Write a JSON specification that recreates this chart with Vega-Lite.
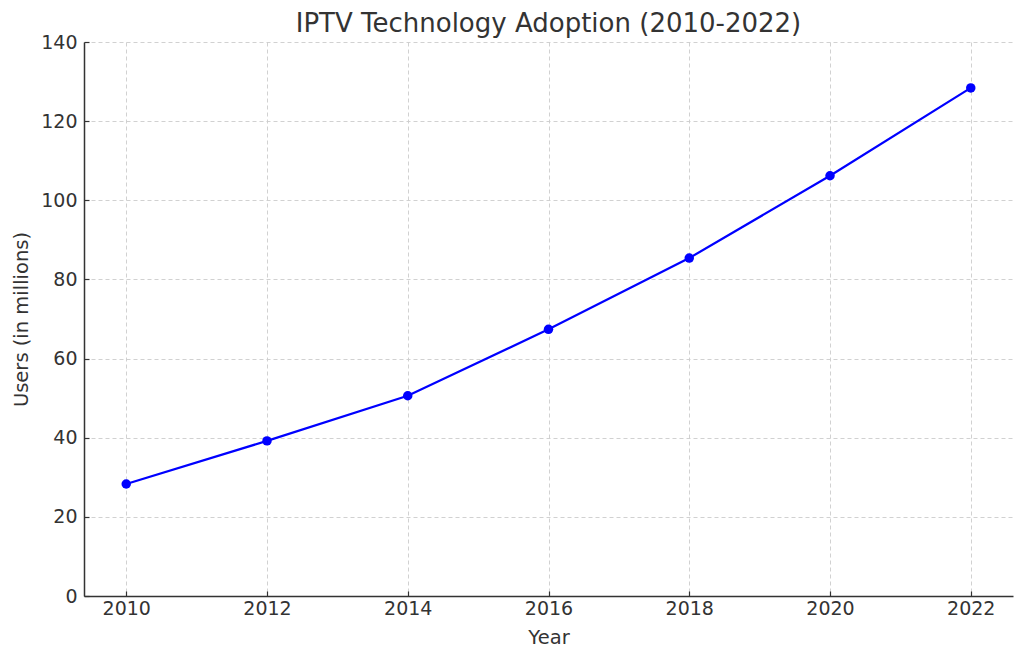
{
  "$schema": "https://vega.github.io/schema/vega-lite/v6.json",
  "autosize": "none",
  "width": 929,
  "height": 554,
  "padding": {"left": 84, "top": 42, "right": 11, "bottom": 64},
  "background": "white",
  "title": {"text": "IPTV Technology Adoption (2010-2022)", "fontSize": 26, "font": "DejaVu Sans", "fontWeight": "normal", "color": "#333333", "offset": -4},
  "config": {"view": {"stroke": null}},
  "data": {"values": [
    {"Year": 2010, "Users": 28.3},
    {"Year": 2012, "Users": 39.2},
    {"Year": 2014, "Users": 50.6},
    {"Year": 2016, "Users": 67.4},
    {"Year": 2018, "Users": 85.4},
    {"Year": 2020, "Users": 106.2},
    {"Year": 2022, "Users": 128.4}
  ]},
  "encoding": {
    "x": {"field": "Year", "type": "quantitative",
      "scale": {"domain": [2009.4, 2022.6], "nice": false, "zero": false},
      "axis": {"values": [2010, 2012, 2014, 2016, 2018, 2020, 2022], "format": "d", "title": "Year",
        "labelFont": "DejaVu Sans", "labelFontSize": 19, "labelColor": "#333333", "titleFont": "DejaVu Sans", "titleFontSize": 19.5, "titleFontWeight": "normal", "titleColor": "#333333",
        "domainColor": "#333333", "domainWidth": 1.5, "tickColor": "#333333", "tickSize": -5, "tickWidth": 1.2, "labelPadding": 8, "titlePadding": 10,
        "grid": true, "gridDash": [4, 3], "gridColor": "#cccccc", "gridWidth": 0.9}},
    "y": {"field": "Users", "type": "quantitative",
      "scale": {"domain": [0, 140], "nice": false},
      "axis": {"values": [0, 20, 40, 60, 80, 100, 120, 140], "title": "Users (in millions)",
        "labelFont": "DejaVu Sans", "labelFontSize": 19, "labelColor": "#333333", "titleFont": "DejaVu Sans", "titleFontSize": 19.5, "titleFontWeight": "normal", "titleColor": "#333333",
        "domainColor": "#333333", "domainWidth": 1.5, "tickColor": "#333333", "tickSize": -5, "tickWidth": 1.2, "labelPadding": 12, "titlePadding": 9,
        "grid": true, "gridDash": [4, 3], "gridColor": "#cccccc", "gridWidth": 0.9}}
  },
  "layer": [
    {"mark": {"type": "line", "color": "#0000ff", "strokeWidth": 2.2}},
    {"mark": {"type": "point", "filled": true, "color": "#0000ff", "size": 90, "opacity": 1}}
  ]
}
